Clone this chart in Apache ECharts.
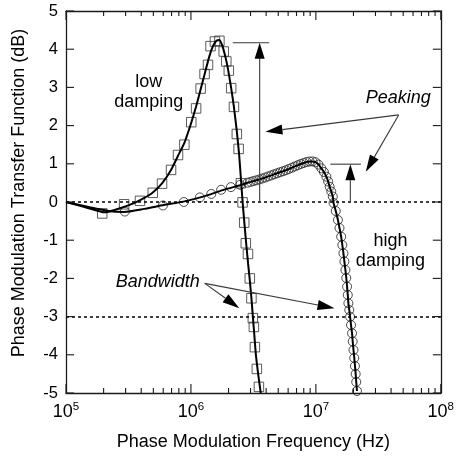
<!DOCTYPE html>
<html>
<head>
<meta charset="utf-8">
<script src="https://cdn.jsdelivr.net/npm/echarts@6/dist/echarts.min.js"></script>
<style>
  html, body { margin: 0; padding: 0; background: #fff; }
  #chart { width: 457px; height: 457px; }
</style>
</head>
<body>
<div id="chart"></div>
<script>
// Phase modulation transfer function vs. modulation frequency,
// for a low-damping and a high-damping laser.

const FONT = '"Liberation Sans", Arial, Helvetica, sans-serif';

// Axis ticks
const xDecades = [1e5, 1e6, 1e7, 1e8];
const xMinorTicks = [
  2e5, 3e5, 4e5, 5e5, 6e5, 7e5, 8e5, 9e5,
  2e6, 3e6, 4e6, 5e6, 6e6, 7e6, 8e6, 9e6,
  2e7, 3e7, 4e7, 5e7, 6e7, 7e7, 8e7, 9e7
];
const yTicks = [-5, -4, -3, -2, -1, 0, 1, 2, 3, 4, 5];
const yMin = -5, yMax = 5, yStep = 1;

// Reference levels: 0 dB and the -3 dB bandwidth level
const refLevels = [0, -3];

// Low damping: measured points [Hz, dB]
const lowDampingPoints = [
  [1.95e5, -0.30], [2.92e5, -0.06], [3.91e5, 0.03], [4.95e5, 0.24],
  [5.87e5, 0.48], [6.93e5, 0.84], [7.88e5, 1.23], [8.86e5, 1.50],
  [1.006e6, 2.09], [1.10e6, 2.45], [1.196e6, 2.97], [1.286e6, 3.35],
  [1.37e6, 3.59], [1.435e6, 4.08], [1.556e6, 4.20], [1.69e6, 4.22],
  [1.83e6, 3.94], [1.92e6, 3.68], [2.01e6, 3.44], [2.10e6, 2.98],
  [2.21e6, 2.49], [2.33e6, 1.78], [2.41e6, 1.39], [2.51e6, 0.49],
  [2.59e6, -0.01], [2.67e6, -0.54], [2.75e6, -1.08], [2.86e6, -1.36],
  [2.96e6, -2.00], [3.05e6, -2.52], [3.13e6, -3.04], [3.19e6, -3.27],
  [3.25e6, -3.80], [3.37e6, -4.37], [3.50e6, -4.84]
];

// Low damping: fitted response [Hz, dB]
const lowDampingFit = [
  [1e5, 0], [1.41e5, -0.13], [2.03e5, -0.27], [2.67e5, -0.17],
  [3.50e5, -0.03], [4.20e5, 0.10], [4.95e5, 0.25], [5.87e5, 0.49],
  [6.93e5, 0.84], [7.88e5, 1.21], [8.86e5, 1.55], [1.00e6, 2.05],
  [1.10e6, 2.50], [1.196e6, 2.95], [1.29e6, 3.36], [1.40e6, 3.80],
  [1.50e6, 4.08], [1.60e6, 4.22], [1.69e6, 4.24], [1.78e6, 4.10],
  [1.88e6, 3.82], [1.98e6, 3.48], [2.10e6, 2.98], [2.21e6, 2.48],
  [2.33e6, 1.85], [2.43e6, 1.25], [2.52e6, 0.55], [2.60e6, -0.05],
  [2.69e6, -0.62], [2.78e6, -1.15], [2.87e6, -1.62], [2.96e6, -2.05],
  [3.05e6, -2.52], [3.13e6, -3.00], [3.22e6, -3.50], [3.31e6, -4.00],
  [3.45e6, -4.50], [3.62e6, -5.00]
];

// High damping: measured points [Hz, dB]
const highDampingPoints = [
  [2.96e5, -0.25], [5.97e5, -0.09], [8.77e5, 0.00], [1.18e6, 0.12],
  [1.455e6, 0.21], [1.745e6, 0.32], [2.09e6, 0.39], [2.48e6, 0.45],
  [2.84e6, 0.505], [3.00e6, 0.526], [3.16e6, 0.547], [3.34e6, 0.568],
  [3.53e6, 0.592], [3.72e6, 0.615], [3.93e6, 0.641], [4.15e6, 0.670],
  [4.39e6, 0.696], [4.63e6, 0.725], [4.89e6, 0.751], [5.17e6, 0.780],
  [5.46e6, 0.806], [5.76e6, 0.832], [6.08e6, 0.864], [6.43e6, 0.898],
  [6.79e6, 0.932], [7.17e6, 0.963], [7.57e6, 0.995], [7.99e6, 1.021],
  [8.44e6, 1.047], [8.91e6, 1.060], [9.41e6, 1.063], [9.94e6, 1.042],
  [1.049e7, 0.98], [1.108e7, 0.88], [1.160e7, 0.785], [1.214e7, 0.662],
  [1.254e7, 0.537], [1.289e7, 0.40], [1.329e7, 0.275], [1.366e7, 0.144],
  [1.386e7, -0.026], [1.443e7, -0.236], [1.502e7, -0.471], [1.546e7, -0.681],
  [1.594e7, -0.908], [1.629e7, -1.126], [1.662e7, -1.343], [1.692e7, -1.558],
  [1.724e7, -1.78], [1.752e7, -1.99], [1.778e7, -2.217], [1.801e7, -2.435],
  [1.821e7, -2.652], [1.851e7, -2.827], [1.878e7, -3.003], [1.912e7, -3.22],
  [1.948e7, -3.437], [1.972e7, -3.652], [2.001e7, -3.874], [2.030e7, -4.084],
  [2.056e7, -4.293], [2.083e7, -4.503], [2.105e7, -4.712], [2.133e7, -4.948]
];

// High damping: fitted response below the dense measurement range [Hz, dB]
const highDampingFitStart = [
  [1e5, 0], [1.55e5, -0.14], [2.23e5, -0.24], [2.92e5, -0.26],
  [4.21e5, -0.18], [6.05e5, -0.08], [8.70e5, 0.01], [1.25e6, 0.14],
  [1.80e6, 0.31], [2.59e6, 0.46]
];

// Annotations in data coordinates [Hz, dB]
const peakLow = { x: 3.55e6, top: 4.17, capFrom: 2.16e6, capTo: 4.23e6 };
const peakHigh = { x: 1.888e7, top: 0.99, capFrom: 1.305e7, capTo: 2.294e7 };
const peakingArrows = [
  { from: [4.60e7, 2.28], to: [3.95e6, 1.84] },
  { from: [4.60e7, 2.28], to: [2.51e7, 0.79] }
];
const bandwidthArrows = [
  { from: [1.29e6, -2.13], to: [2.44e6, -2.78] },
  { from: [1.29e6, -2.13], to: [1.41e7, -2.78] }
];
const notes = [
  { text: 'low\ndamping', at: [4.60e5, 2.89], italic: false },
  { text: 'high\ndamping', at: [3.95e7, -1.28], italic: false },
  { text: 'Peaking', at: [4.57e7, 2.71], italic: true },
  { text: 'Bandwidth', at: [5.42e5, -2.09], italic: true }
];

const INK = '#1a1a1a';
const frameLine = { show: true, onZero: false, lineStyle: { color: INK, width: 1.3 } };

function xAxisLayer(position, withLabels) {
  return {
    type: 'log', logBase: 10, min: 1e5, max: 1e8, position: position,
    splitLine: { show: false },
    axisLine: frameLine,
    axisTick: { show: false },
    axisLabel: withLabels ? {
      show: true,
      margin: 8,
      formatter: function (v) {
        return '{b|10}{s|' + Math.round(Math.log10(v)) + '}';
      },
      rich: {
        b: { fontFamily: FONT, fontSize: 18, color: '#000', lineHeight: 22 },
        s: { fontFamily: FONT, fontSize: 11.5, color: '#000', lineHeight: 12, verticalAlign: 'top' }
      }
    } : { show: false }
  };
}

function yAxisLayer(position, withLabels) {
  const ax = {
    type: 'value', min: yMin, max: yMax, interval: yStep, position: position,
    splitLine: { show: false },
    axisLine: frameLine,
    axisTick: { show: false },
    axisLabel: withLabels ? {
      show: true, margin: 8, fontFamily: FONT, fontSize: 16.5, color: '#000'
    } : { show: false }
  };
  if (withLabels) {
    ax.name = 'Phase Modulation Transfer Function (dB)';
    ax.nameLocation = 'middle';
    ax.nameGap = 38;
    ax.nameTextStyle = { fontFamily: FONT, fontSize: 18, color: '#000', padding: [0, 0, 0, 18] };
  }
  return ax;
}

const xMain = xAxisLayer('bottom', true);
xMain.name = 'Phase Modulation Frequency (Hz)';
xMain.nameLocation = 'middle';
xMain.nameGap = 40;
xMain.nameTextStyle = { fontFamily: FONT, fontSize: 18, color: '#000' };

const highDampingLine = highDampingFitStart.concat(
  highDampingPoints.filter(function (p) { return p[0] > 2.6e6; })
);

const chart = echarts.init(document.getElementById('chart'), null, { renderer: 'canvas' });

chart.setOption({
  animation: false,
  backgroundColor: '#fff',
  grid: { left: 66, right: 11, top: 11, bottom: 64, containLabel: false },
  xAxis: [xMain, xAxisLayer('top', false)],
  yAxis: [yAxisLayer('left', true), yAxisLayer('right', false)],
  series: [
    {
      name: 'reference levels', type: 'line', data: [], xAxisIndex: 0, yAxisIndex: 0,
      markLine: {
        silent: true, symbol: ['none', 'none'],
        label: { show: false },
        lineStyle: { color: '#000', width: 1.5, type: [3, 3] },
        data: refLevels.map(function (v) { return { yAxis: v }; })
      }
    },
    {
      name: 'low damping points', type: 'scatter', data: lowDampingPoints,
      symbol: 'rect', symbolSize: 9.5, z: 2,
      itemStyle: { color: 'rgba(0,0,0,0)', borderColor: '#333', borderWidth: 1 }
    },
    {
      name: 'high damping points', type: 'scatter', data: highDampingPoints,
      symbol: 'circle', symbolSize: 9, z: 2,
      itemStyle: { color: 'rgba(0,0,0,0)', borderColor: '#222', borderWidth: 1 }
    },
    {
      name: 'low damping fit', type: 'line', data: lowDampingFit,
      showSymbol: false, smooth: 0.15, z: 3,
      lineStyle: { color: '#000', width: 2 }
    },
    {
      name: 'high damping fit', type: 'line', data: highDampingLine,
      showSymbol: false, smooth: 0.2, z: 3,
      lineStyle: { color: '#000', width: 2 }
    }
  ]
});

// Pixel position of a data point on the main axes
function px(p) { return chart.convertToPixel({ xAxisIndex: 0, yAxisIndex: 0 }, p); }

const graphics = [];

function rawLine(x1, y1, x2, y2, color, width) {
  graphics.push({
    type: 'line', silent: true, z: 10,
    shape: { x1: x1, y1: y1, x2: x2, y2: y2 },
    style: { stroke: color, lineWidth: width }
  });
}

// Inward ticks on all four sides of the frame
const frameLeft = px([1e5, 0])[0], frameRight = px([1e8, 0])[0];
const frameTop = px([1e5, yMax])[1], frameBottom = px([1e5, yMin])[1];
xDecades.forEach(function (v) {
  const x = px([v, 0])[0];
  rawLine(x, frameBottom, x, frameBottom - 9, INK, 1.1);
  rawLine(x, frameTop, x, frameTop + 9, INK, 1.1);
});
xMinorTicks.forEach(function (v) {
  const x = px([v, 0])[0];
  rawLine(x, frameBottom, x, frameBottom - 5, INK, 1.1);
  rawLine(x, frameTop, x, frameTop + 5, INK, 1.1);
});
yTicks.forEach(function (v) {
  const y = px([1e5, v])[1];
  rawLine(frameLeft, y, frameLeft + 8, y, INK, 1.1);
  rawLine(frameRight, y, frameRight - 8, y, INK, 1.1);
});

// Arrows and text notes
const ARROW = '#3a3a3a';

function segment(a, b) {
  const p = px(a), q = px(b);
  rawLine(p[0], p[1], q[0], q[1], ARROW, 1.1);
}

function arrow(a, b, len, half) {
  const p = px(a), q = px(b);
  const dx = q[0] - p[0], dy = q[1] - p[1];
  const d = Math.sqrt(dx * dx + dy * dy);
  const ux = dx / d, uy = dy / d;
  const bx = q[0] - ux * len, by = q[1] - uy * len;
  rawLine(p[0], p[1], bx, by, ARROW, 1.1);
  graphics.push({
    type: 'polygon', silent: true, z: 10,
    shape: { points: [[q[0], q[1]], [bx - uy * half, by + ux * half], [bx + uy * half, by - ux * half]] },
    style: { fill: '#000' }
  });
}

[peakLow, peakHigh].forEach(function (pk) {
  segment([pk.capFrom, pk.top], [pk.capTo, pk.top]);
  arrow([pk.x, 0], [pk.x, pk.top], 16, 5);
});
peakingArrows.concat(bandwidthArrows).forEach(function (a) {
  arrow(a.from, a.to, 17, 5);
});

notes.forEach(function (n) {
  const p = px(n.at);
  graphics.push({
    type: 'text', silent: true, z: 11,
    x: p[0], y: p[1],
    style: {
      text: n.text, fill: '#000',
      fontFamily: FONT, fontSize: 18, fontStyle: n.italic ? 'italic' : 'normal',
      lineHeight: 20,
      align: 'center', verticalAlign: 'middle'
    }
  });
});

chart.setOption({ graphic: graphics });
</script>
</body>
</html>
